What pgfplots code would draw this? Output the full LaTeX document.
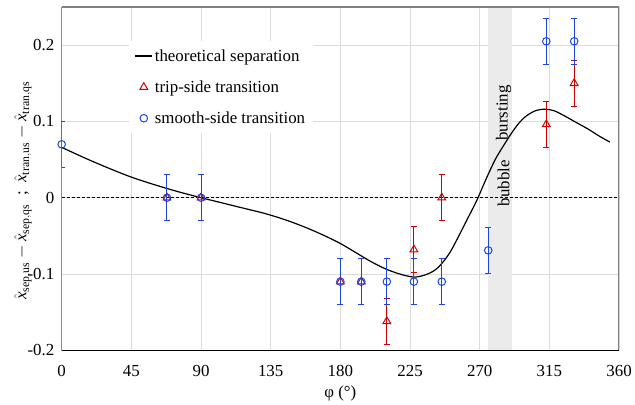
\documentclass[border=0pt]{standalone}
\usepackage{fontspec}
\setmainfont{Liberation Serif}
\usepackage{pgfplots}
\pgfplotsset{compat=1.18}
\definecolor{myred}{RGB}{204,0,0}
\definecolor{myblue}{RGB}{30,70,220}
\definecolor{gridc}{RGB}{220,220,220}
\definecolor{bandc}{RGB}{235,235,235}
\definecolor{framec}{RGB}{128,128,128}
\newcommand{\bigfont}{\fontsize{17}{20}\selectfont\rmfamily}
\begin{document}
\begin{tikzpicture}
\begin{axis}[
  scale only axis, width=560bp, height=345bp,
  xmin=0, xmax=360, ymin=-0.2, ymax=0.25,
  xtick={0,45,...,360}, ytick={-0.2,-0.1,0,0.1,0.2},
  major tick length=0pt,
  grid=major, major grid style={gridc, line width=0.8bp},
  axis line style={draw=none},
  tick label style={font=\bigfont},
  /pgf/number format/assume math mode=true,
  yticklabel style={/pgf/number format/fixed, /pgf/number format/precision=1, xshift=-4bp},
  xticklabel style={yshift=-12bp},
  xlabel={φ (°)}, xlabel style={font=\bigfont, yshift=-2bp},
  ylabel={$\hat{\mathit{x}}_{\mathrm{sep,us}}-\hat{\mathit{x}}_{\mathrm{sep,qs}}$\ \ ;\ \ $\hat{\mathit{x}}_{\mathrm{tran,us}}-\hat{\mathit{x}}_{\mathrm{tran,qs}}$},
  ylabel style={font=\bigfont, at={(rel axis cs:0,0.465)}, anchor=center, yshift=39bp},
  legend style={at={(rel axis cs:0.12,0.90)}, anchor=north west, draw=none, fill=white,
    font=\bigfont, row sep=14bp, inner xsep=6bp, inner ysep=6bp},
  legend cell align=left,
  error bars/error bar style={line width=1bp},
  error bars/error mark options={rotate=90, mark size=3bp, line width=1bp},
]
\addplot[draw=none, fill=bandc, forget plot] coordinates {(275.5,-0.2) (291,-0.2) (291,0.25) (275.5,0.25)} -- cycle;
\addplot[black, line width=0.9bp, dash pattern=on 3bp off 2bp, forget plot] coordinates {(0,0) (360,0)};
\addplot[black, line width=1.2bp, smooth, tension=0.5] coordinates {
(0,0.066) (15,0.052) (30,0.039) (45,0.027) (60,0.017) (75,0.008) (90,0.000)
(100,-0.005) (110,-0.010) (120,-0.015) (130,-0.020) (140,-0.026) (150,-0.033) (160,-0.041)
(170,-0.050) (180,-0.060) (190,-0.072) (200,-0.084) (210,-0.094) (220,-0.101) (228,-0.104)
(235,-0.101) (241,-0.095) (246,-0.085) (251,-0.071) (256,-0.052) (262,-0.028) (268,-0.004)
(274,0.024) (280,0.050) (285,0.067) (290,0.083) (295,0.097) (300,0.107) (306,0.114) (312,0.116)
(318,0.114) (325,0.107) (332,0.099) (340,0.090) (347,0.081) (354,0.073)};
\addlegendentry{theoretical separation}
\addplot[myred, only marks, mark=triangle, mark size=4.5bp, mark options={line width=1bp},
  error bars/.cd, y dir=both, y explicit] coordinates {
(68,0) +- (0,0.03)
(90,0) +- (0,0.03)
(180,-0.11) +- (0,0.03)
(193.5,-0.11) +- (0,0.03)
(210,-0.162) +- (0,0.03)
(227.5,-0.068) +- (0,0.03)
(245.5,0) +- (0,0.03)
(313,0.096) +- (0,0.03)
(331,0.15) +- (0,0.03)};
\addlegendentry{trip-side transition}
\addplot[myblue, only marks, mark=o, mark size=3.8bp, mark options={line width=1bp},
  error bars/.cd, y dir=both, y explicit] coordinates {
(0,0.07) +- (0,0.03)
(68,0) +- (0,0.03)
(90,0) +- (0,0.03)
(180,-0.11) +- (0,0.03)
(193.5,-0.11) +- (0,0.03)
(210,-0.11) +- (0,0.03)
(227.5,-0.11) +- (0,0.03)
(245.5,-0.11) +- (0,0.03)
(275.5,-0.069) +- (0,0.03)
(313,0.205) +- (0,0.03)
(331,0.205) +- (0,0.03)};
\addlegendentry{smooth-side transition}
\node[rotate=90, font=\bigfont] at (axis cs:285.5,0.019) {bubble};
\node[rotate=90, font=\bigfont] at (axis cs:285.5,0.111) {bursting};
\draw[framec, line width=1.2bp] (rel axis cs:0,1) -- (rel axis cs:1,1) -- (rel axis cs:1,0);
\draw[black, line width=1.2bp] (rel axis cs:0,1) -- (rel axis cs:0,0) -- (rel axis cs:1,0);
\coordinate (topm) at (rel axis cs:0,1);
\coordinate (leftm) at (rel axis cs:0,0);
\end{axis}
\path ([yshift=7bp]topm) ([xshift=-62bp]leftm);
\end{tikzpicture}
\end{document}
